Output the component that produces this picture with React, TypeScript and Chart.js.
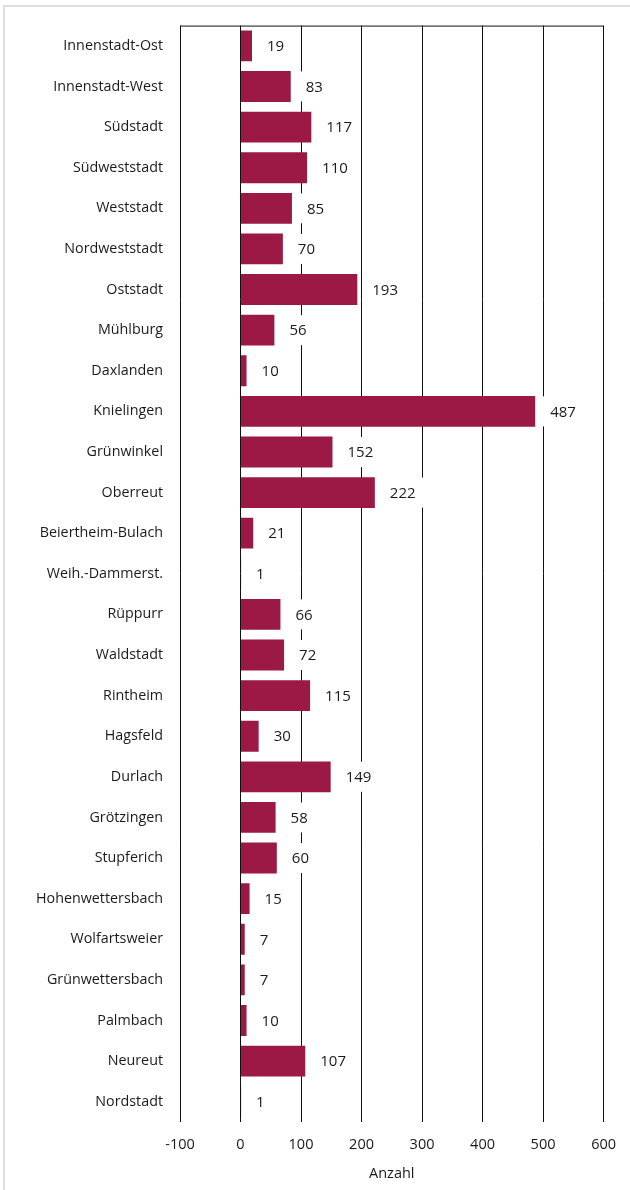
import React, { useEffect, useRef } from "react";
import { Chart, registerables } from "chart.js";

Chart.register(...registerables);

const categories = [
  "Innenstadt-Ost", "Innenstadt-West", "Südstadt", "Südweststadt", "Weststadt",
  "Nordweststadt", "Oststadt", "Mühlburg", "Daxlanden", "Knielingen", "Grünwinkel",
  "Oberreut", "Beiertheim-Bulach", "Weih.-Dammerst.", "Rüppurr", "Waldstadt",
  "Rintheim", "Hagsfeld", "Durlach", "Grötzingen", "Stupferich", "Hohenwettersbach",
  "Wolfartsweier", "Grünwettersbach", "Palmbach", "Neureut", "Nordstadt",
];
const values = [19, 83, 117, 110, 85, 70, 193, 56, 10, 487, 152, 222, 21, 1, 66, 72, 115, 30, 149, 58, 60, 15, 7, 7, 10, 107, 1];
const xTicks = [-100, 0, 100, 200, 300, 400, 500, 600];
const axisTitle = "Anzahl";

const FONT = "'Open Sans', 'Noto Sans', sans-serif";

const valueLabels = {
  id: "valueLabels",
  afterDatasetsDraw(chart: any) {
    const ctx = chart.ctx;
    const meta = chart.getDatasetMeta(0);
    ctx.save();
    ctx.font = `15px ${FONT}`;
    ctx.textBaseline = "middle";
    ctx.textAlign = "left";
    meta.data.forEach((bar: any, i: number) => {
      const txt = String(values[i]);
      const w = ctx.measureText(txt).width;
      const x = bar.x + 15;
      const y = bar.y;
      ctx.fillStyle = "#ffffff";
      ctx.fillRect(x - 8, y - 15, w + 16, 30);
      ctx.fillStyle = "#1a1a1a";
      ctx.fillText(txt, x, y + 1);
    });
    ctx.restore();
  },
};

const topLine = {
  id: "topLine",
  afterDraw(chart: any) {
    const { ctx, chartArea } = chart;
    ctx.save();
    ctx.strokeStyle = "#111";
    ctx.lineWidth = 1;
    ctx.beginPath();
    ctx.moveTo(chartArea.left, chartArea.top + 0.5);
    ctx.lineTo(chartArea.right, chartArea.top + 0.5);
    ctx.stroke();
    ctx.restore();
  },
};

export default function App() {
  const ref = useRef<HTMLCanvasElement>(null);
  useEffect(() => {
    if (!ref.current) return;
    const chart = new Chart(ref.current, {
      type: "bar",
      data: {
        labels: categories,
        datasets: [
          {
            data: values,
            backgroundColor: "#9c1946",
            borderWidth: 0,
            barPercentage: 0.76,
            categoryPercentage: 1,
          },
        ],
      },
      options: {
        indexAxis: "y",
        animation: false,
        responsive: false,
        maintainAspectRatio: false,
        layout: { padding: { top: 25, right: 26, bottom: 0, left: 0 } },
        plugins: { legend: { display: false }, tooltip: { enabled: false } },
        scales: {
          x: {
            type: "linear",
            min: -100,
            max: 600,
            afterBuildTicks: (scale: any) => {
              scale.ticks = xTicks.map((v) => ({ value: v }));
            },
            afterFit: (scale: any) => {
              scale.height = 68;
            },
            grid: { color: "#111", lineWidth: 1, drawTicks: false },
            border: { display: false },
            ticks: { color: "#1a1a1a", font: { family: FONT, size: 14.5 }, padding: 14 },
            title: {
              display: true,
              text: axisTitle,
              color: "#1a1a1a",
              font: { family: FONT, size: 14.5 },
              padding: { top: 0, bottom: 7 },
            },
          },
          y: {
            grid: { display: false, drawTicks: false },
            border: { display: false },
            ticks: { color: "#1a1a1a", font: { family: FONT, size: 14.3 }, padding: 17, autoSkip: false },
            afterFit: (scale: any) => {
              scale.width = 180;
            },
          },
        },
      },
      plugins: [valueLabels, topLine],
    });
    return () => chart.destroy();
  }, []);
  return (
    <div style={{ position: "fixed", left: 0, top: 0, width: 630, height: 1190, overflow: "hidden", background: "#fff" }}>
      <div style={{ position: "absolute", left: 3, top: 5, width: 660, height: 1220, border: "2px solid #dedede" }} />
      <canvas ref={ref} width={630} height={1190} style={{ position: "absolute", left: 0, top: 0, width: 630, height: 1190 }} />
    </div>
  );
}
